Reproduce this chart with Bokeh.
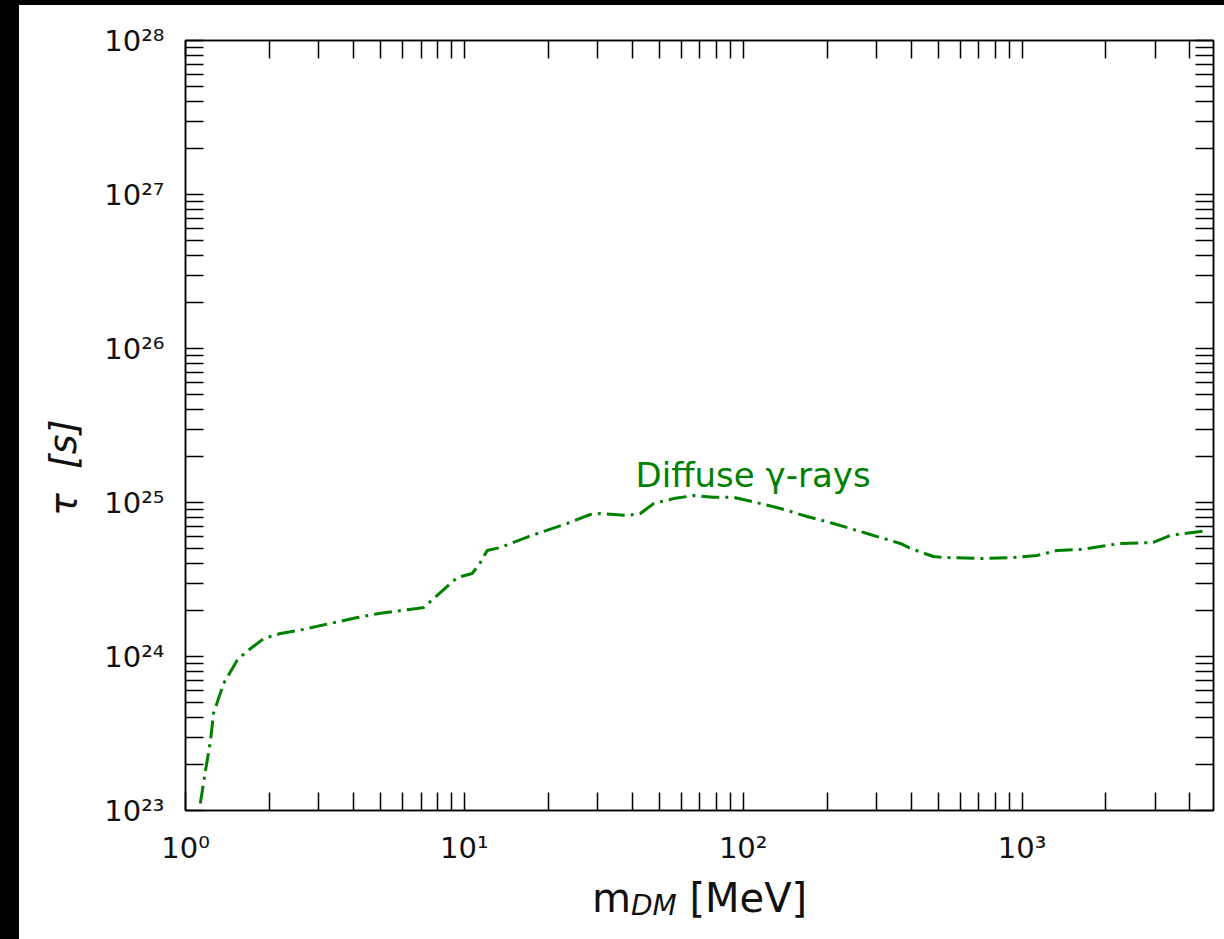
from bokeh.plotting import figure
from bokeh.models import FixedTicker, CustomJSTickFormatter, LogAxis, Label, Div
from bokeh.layouts import row, column
from bokeh.embed import file_html
from bokeh.resources import INLINE

# ---- data ----
mass_mev = [1.13, 1.18, 1.23, 1.26, 1.37, 1.53, 1.64, 1.91, 2.19, 2.65,
            3.31, 4.13, 5.0, 6.77, 7.14, 7.99, 9.42, 10.67, 11.42, 12.07,
            13.47, 16.98, 23.4, 28.3, 30.8, 38.4, 42.8, 47.8, 56.3, 66.4,
            78.2, 92.2, 108.8, 136.0, 169.5, 210.6, 278.0, 366.0, 398.0, 481.0,
            538.0, 709.0, 931.0, 1132.0, 1335.0, 1618.0, 1909.0, 2249.0, 2957.0, 3402.0,
            4656.0]
tau_s = [1.11e23, 1.82e23, 2.85e23, 4.27e23, 6.68e23, 9.42e23, 1.06e24, 1.31e24, 1.41e24, 1.50e24,
         1.64e24, 1.79e24, 1.91e24, 2.05e24, 2.08e24, 2.49e24, 3.26e24, 3.46e24, 4.08e24, 4.88e24,
         5.10e24, 6.01e24, 7.31e24, 8.36e24, 8.49e24, 8.24e24, 8.49e24, 9.86e24, 1.06e25, 1.11e25,
         1.08e25, 1.08e25, 1.01e25, 9.14e24, 8.11e24, 7.31e24, 6.29e24, 5.42e24, 5.03e24, 4.46e24,
         4.39e24, 4.33e24, 4.39e24, 4.53e24, 4.88e24, 4.95e24, 5.18e24, 5.42e24, 5.50e24, 6.11e24,
         6.58e24]

x_exponents = [0, 1, 2, 3]
x_tick_labels = ["10\u2070", "10\u00b9", "10\u00b2", "10\u00b3"]
y_exponents = [23, 24, 25, 26, 27, 28]
y_tick_labels = ["10\u00b2\u00b3", "10\u00b2\u2074", "10\u00b2\u2075",
                 "10\u00b2\u2076", "10\u00b2\u2077", "10\u00b2\u2078"]

curve_label = "Diffuse \u03b3-rays"
y_label = "\u03c4\u00a0\u00a0[s]"
x_label_main = "m"
x_label_sub = "DM"
x_label_unit = "[MeV]"
x_range = (1.0, 4860.0)
y_range = (1e23, 1e28)

FONT = "DejaVu Sans"
GREEN = "#008000"
INK = "#111111"

p = figure(width=1205, height=865, x_axis_type="log", y_axis_type="log",
           x_range=x_range, y_range=y_range, output_backend="svg",
           toolbar_location=None, min_border_left=166, min_border_right=11,
           min_border_top=35, min_border_bottom=60)
p.background_fill_color = "white"
p.border_fill_color = "white"
p.outline_line_color = "black"
p.outline_line_width = 1.5
p.xgrid.grid_line_color = None
p.ygrid.grid_line_color = None

x_major = [10.0 ** e for e in x_exponents]
x_minor = [m * 10.0 ** e for e in x_exponents for m in range(2, 10) if m * 10.0 ** e < x_range[1]]
y_major = [10.0 ** e for e in y_exponents]
y_minor = [m * 10.0 ** e for e in y_exponents[:-1] for m in range(2, 10)]

fmt_code = """
const e = Math.round(Math.log10(tick));
const i = exps.indexOf(e);
return i >= 0 ? labels[i] : "";
"""
x_fmt = CustomJSTickFormatter(args=dict(exps=x_exponents, labels=x_tick_labels), code=fmt_code)
y_fmt = CustomJSTickFormatter(args=dict(exps=y_exponents, labels=y_tick_labels), code=fmt_code)


def style_axis(ax, show_labels, standoff=20):
    ax.axis_line_color = "black"
    ax.axis_line_width = 1.5
    ax.major_tick_in = 18
    ax.major_tick_out = 0
    ax.minor_tick_in = 18
    ax.minor_tick_out = 0
    ax.major_tick_line_width = 1.5
    ax.minor_tick_line_width = 1.5
    ax.major_tick_line_color = "black"
    ax.minor_tick_line_color = "black"
    if show_labels:
        ax.major_label_text_font = FONT
        ax.major_label_text_font_size = "29px"
        ax.major_label_text_color = INK
        ax.major_label_standoff = standoff
    else:
        ax.major_label_text_font_size = "1px"
        ax.major_label_text_color = None
        ax.major_label_standoff = 0


xb = p.xaxis[0]
xb.ticker = FixedTicker(ticks=x_major, minor_ticks=x_minor)
xb.formatter = x_fmt
style_axis(xb, True, 20)

yl = p.yaxis[0]
yl.ticker = FixedTicker(ticks=y_major, minor_ticks=y_minor)
yl.formatter = y_fmt
style_axis(yl, True, 21)
yl.axis_label = y_label + "\u00a0" * 7
yl.axis_label_text_font = FONT
yl.axis_label_text_font_size = "38px"
yl.axis_label_text_font_style = "italic"
yl.axis_label_text_color = INK
yl.axis_label_standoff = 16

xt = LogAxis(ticker=FixedTicker(ticks=x_major, minor_ticks=x_minor), formatter=x_fmt)
style_axis(xt, False)
p.add_layout(xt, "above")
yr = LogAxis(ticker=FixedTicker(ticks=y_major, minor_ticks=y_minor), formatter=y_fmt)
style_axis(yr, False)
p.add_layout(yr, "right")

p.line(mass_mev, tau_s, line_color=GREEN, line_width=3, line_dash="18 6 3 6")

p.add_layout(Label(x=41.1, y=1.5e25, text=curve_label, text_font=FONT,
                   text_font_size="34px", text_color=GREEN,
                   text_align="left", text_baseline="alphabetic"))

# x axis label (m_DM [MeV]) as real HTML text below the figure
xlabel_html = (
    '<div style="font-family:\'DejaVu Sans\';font-size:40px;color:%s;'
    'padding-left:573px;padding-top:5px;line-height:normal;white-space:nowrap;">'
    '%s<span style="font-size:28px;font-style:italic;vertical-align:-3px;">%s</span>'
    '&nbsp;%s</div>' % (INK, x_label_main, x_label_sub, x_label_unit)
)
xlabel = Div(text=xlabel_html, width=1205, height=69, margin=0,
             styles={"background-color": "white"})

left_strip = Div(text="", width=19, height=939, margin=0,
                 styles={"background-color": "#000000"})
top_strip = Div(text="", width=1205, height=5, margin=0,
                styles={"background-color": "#000000"})

layout = row(left_strip, column(top_strip, p, xlabel, spacing=0), spacing=0)

open("out.html", "w").write(file_html(layout, INLINE))
